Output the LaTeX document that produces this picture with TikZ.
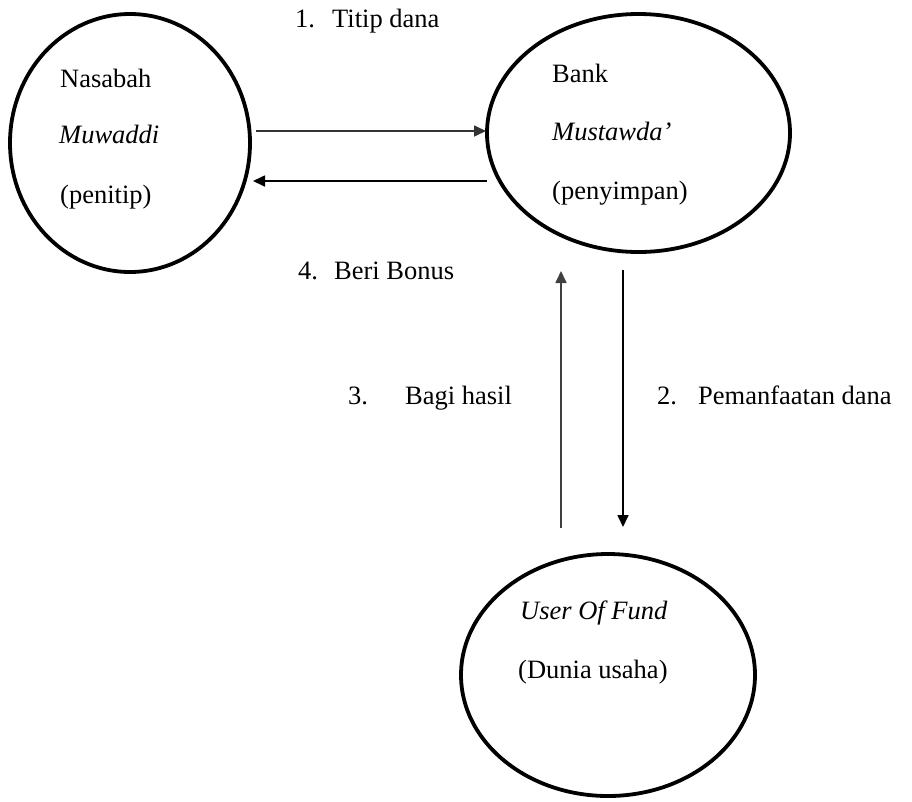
\documentclass[tikz,border=0pt]{standalone}
\usepackage{fontspec}
\setmainfont{Liberation Serif}
\usetikzlibrary{shapes.geometric,arrows.meta}
\begin{document}
\begin{tikzpicture}[x=1pt,y=-1pt,
  party/.style={draw,ellipse,line width=3.8pt,inner sep=0pt},
  lbl/.style={anchor=base west,inner sep=0pt,font=\fontsize{26.5}{30}\selectfont},
  flow/.style={line width=1.7pt,-{Triangle[length=12pt,width=11pt]}}]
\useasboundingbox (0,0) rectangle (912,801);
% parties
\node[party,minimum width=240pt,minimum height=258pt] (nas) at (130,143) {};
\node[party,minimum width=303pt,minimum height=238pt] (bank) at (638.5,133) {};
\node[party,minimum width=294pt,minimum height=242pt] (user) at (608,675) {};
% texts in parties
\node[lbl] (t1) at (60,87) {Nasabah};
\node[lbl] (t2) at (59,143) {\textit{Muwaddi}};
\node[lbl] (t3) at (60,203) {(penitip)};
\node[lbl] (t4) at (552,82) {Bank};
\node[lbl] (t5) at (552,140) {\textit{Mustawda'}};
\node[lbl] (t6) at (552,199) {(penyimpan)};
\node[lbl] (t7) at (520,619) {\textit{User Of Fund}};
\node[lbl] (t8) at (518,678) {(Dunia usaha)};
% flow labels
\node[lbl] (l1) at (295,27) {\makebox[37pt][l]{1.}Titip dana};
\node[lbl] (l4) at (298,279) {\makebox[36pt][l]{4.}Beri Bonus};
\node[lbl] (l3) at (348,404) {\makebox[57pt][l]{3.}Bagi hasil};
\node[lbl] (l2) at (657,404) {\makebox[41pt][l]{2.}Pemanfaatan dana};
% connector ends
\coordinate (a1s) at (256,131);
\coordinate (a1e) at (486,131);
\coordinate (a4s) at (487,181);
\coordinate (a4e) at (253,181);
\coordinate (a3s) at (561,528);
\coordinate (a3e) at (561,271);
\coordinate (a2s) at (623,270);
\coordinate (a2e) at (623,527);
\draw[flow,black!80] (a1s) -- (a1e);
\draw[flow] (a4s) -- (a4e);
\draw[flow,black!75] (a3s) -- (a3e);
\draw[flow] (a2s) -- (a2e);
\end{tikzpicture}
\end{document}
